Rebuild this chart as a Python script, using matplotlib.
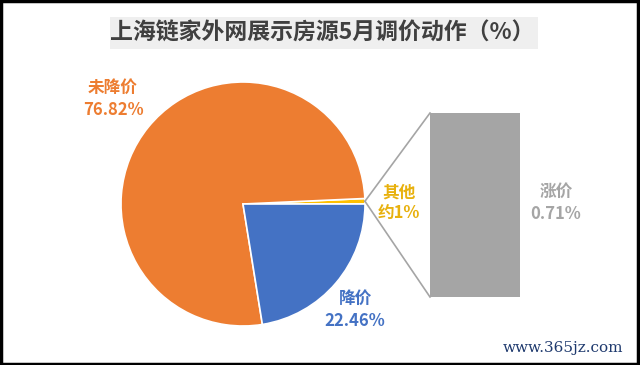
import numpy as np
import matplotlib
matplotlib.use('Agg')
import matplotlib.pyplot as plt
from matplotlib.patches import Rectangle

plt.rcParams['font.family'] = ['Noto Sans CJK SC', 'DejaVu Sans']

# pie data (counterclockwise from 0 deg)
pie_labels = ['其他', '未降价', '降价']
pie_values = [0.72, 76.82, 22.46]
pie_colors = ['#FFC000', '#ED7D31', '#4472C4']

# bar of "其他"
bar_label = '涨价'
bar_value = 0.71

fig = plt.figure(figsize=(6.4, 3.65), dpi=100)
ax = fig.add_axes([0, 0, 1, 1])

cx, cy, r = 243, 161, 122
ax.pie(pie_values, colors=pie_colors, startangle=0, counterclock=True,
       center=(cx, cy), radius=r, frame=True,
       wedgeprops=dict(edgecolor='white', linewidth=1.2))
ax.set_xlim(0, 640)
ax.set_ylim(0, 365)
ax.set_aspect('equal')
ax.axis('off')

# connector lines from small slice to bar
ang = np.deg2rad(pie_values[0] * 3.6 / 2)
px, py = cx + r * np.cos(ang), cy + r * np.sin(ang)
bx0, by0, bx1, by1 = 430, 68, 520, 252
ax.plot([px, bx0], [py, by1], color='#A5A5A5', lw=1.2)
ax.plot([px, bx0], [py, by0], color='#A5A5A5', lw=1.2)

# bar axes
bax = fig.add_axes([bx0 / 640, by0 / 365, (bx1 - bx0) / 640, (by1 - by0) / 365])
bax.bar([0], [bar_value], width=1.0, color='#A5A5A5')
bax.set_xlim(-0.5, 0.5)
bax.set_ylim(0, bar_value)
bax.axis('off')

# labels
lab = dict(fontsize=12, fontweight='bold', ha='center', va='center', linespacing=1.25)
ax.text(113, 266, '未降价\n76.82%', color='#ED7D31', **lab)
ax.text(355, 55, '降价\n22.46%', color='#4472C4', **lab)
ax.text(399, 162, '其他\n约1%', color='#E8B10E', **lab)
ax.text(556, 162, '涨价\n0.71%', color='#A5A5A5', **lab)

# title
ax.add_patch(Rectangle((110, 316), 428, 32, facecolor='#EFEFEF', edgecolor='none'))
ax.text(322, 332, '上海链家外网展示房源5月调价动作（%）', color='#404040',
        fontsize=16.5, fontweight='bold', ha='center', va='center')

# watermark
ax.text(563, 17, 'www.365jz.com', color='#1F3A6E', fontsize=11,
        family='DejaVu Serif', ha='center', va='center')

# frame
fig.patches.append(Rectangle((0.002, 0.003), 0.995, 0.994, transform=fig.transFigure,
                             fill=False, edgecolor='black', linewidth=2.5))

fig.savefig('out.png', dpi=100)
